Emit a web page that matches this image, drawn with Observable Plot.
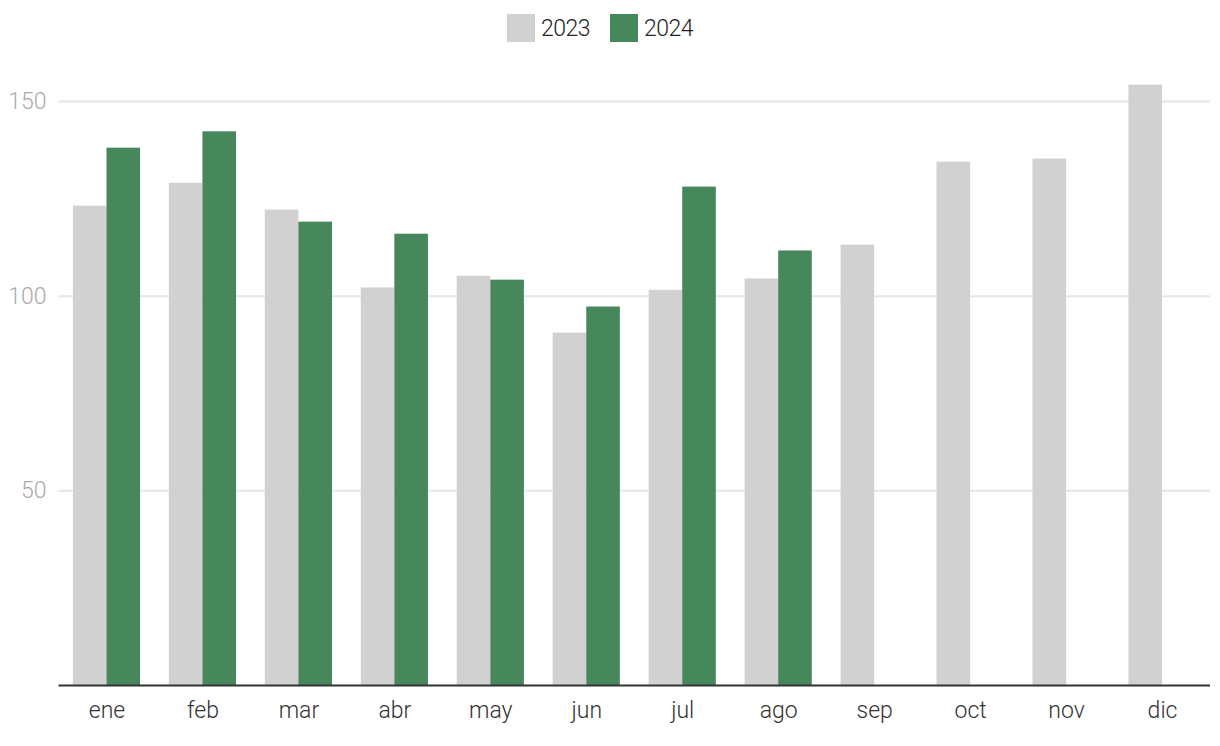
<!DOCTYPE html>
<html>
<head>
<meta charset="utf-8">
<script src="https://cdn.jsdelivr.net/npm/d3@7"></script>
<script src="https://cdn.jsdelivr.net/npm/@observablehq/plot@0.6"></script>
<style>
  html, body { margin: 0; padding: 0; background: #fff; }
  body { width: 1220px; font-family: Roboto, "Liberation Sans", sans-serif; }
  #legend { height: 56px; display: flex; justify-content: center; align-items: flex-start; padding-top: 14px; padding-right: 20px; box-sizing: border-box; }
  .item { display: flex; align-items: center; height: 28px; margin: 0 10px; }
  .sw { width: 28px; height: 28px; margin-right: 6px; }
  .lab { font-size: 23px; color: #222; letter-spacing: -0.5px; font-weight: 300; }
</style>
</head>
<body>
<div id="legend"></div>
<div id="chart"></div>
<script>
const months = ["ene","feb","mar","abr","may","jun","jul","ago","sep","oct","nov","dic"];
const years = ["2023","2024"];
const values2023 = [123.1,129.0,122.1,102.1,105.1,90.5,101.5,104.4,113.1,134.4,135.2,154.2];
const values2024 = [138.0,142.2,119.0,115.9,104.1,97.2,128.0,111.6];
const colors = ["#d1d1d1","#46875b"];
const yTicks = [50,100,150];

const data2023 = months.map((m,i) => ({month: m, year: years[0], value: values2023[i]})).filter(d => d.value != null);
const data2024 = months.map((m,i) => ({month: m, year: years[1], value: values2024[i]})).filter(d => d.value != null);

const legend = document.getElementById("legend");
years.forEach((y,i) => {
  const it = document.createElement("div");
  it.className = "item";
  it.innerHTML = `<div class="sw" style="background:${colors[i]}"></div><span class="lab">${y}</span>`;
  legend.appendChild(it);
});

const W = 1220, mL = 58.5, mR = 10;
const pInner = 0.3, pOuter = 0.15;
const step = (W - mL - mR) / (months.length - pInner + 2 * pOuter);
const half = step * (1 - pInner) / 2;

const chart = Plot.plot({
  width: W,
  height: 690,
  marginTop: 6,
  marginBottom: 61,
  marginLeft: mL,
  marginRight: mR,
  style: {fontFamily: "Roboto, 'Liberation Sans', sans-serif", background: "#fff"},
  x: {domain: months, paddingInner: pInner, paddingOuter: pOuter, round: false, label: null},
  y: {domain: [0, 160], label: null},
  color: {domain: years, range: colors},
  marks: [
    Plot.ruleY(yTicks, {stroke: "#e6e6e6", strokeWidth: 2}),
    Plot.barY(data2023, {x: "month", y: "value", fill: "year", insetRight: half}),
    Plot.barY(data2024, {x: "month", y: "value", fill: "year", insetLeft: half}),
    Plot.ruleY([0], {stroke: "#333", strokeWidth: 2}),
    Plot.axisY(yTicks, {tickSize: 0, tickPadding: 12.5, fontSize: 23, fontWeight: 300, color: "#aaa", label: null}),
    Plot.axisX({tickSize: 0, tickPadding: 16, fontSize: 23, fontWeight: 300, color: "#333", label: null})
  ]
});
document.getElementById("chart").appendChild(chart);
</script>
</body>
</html>
